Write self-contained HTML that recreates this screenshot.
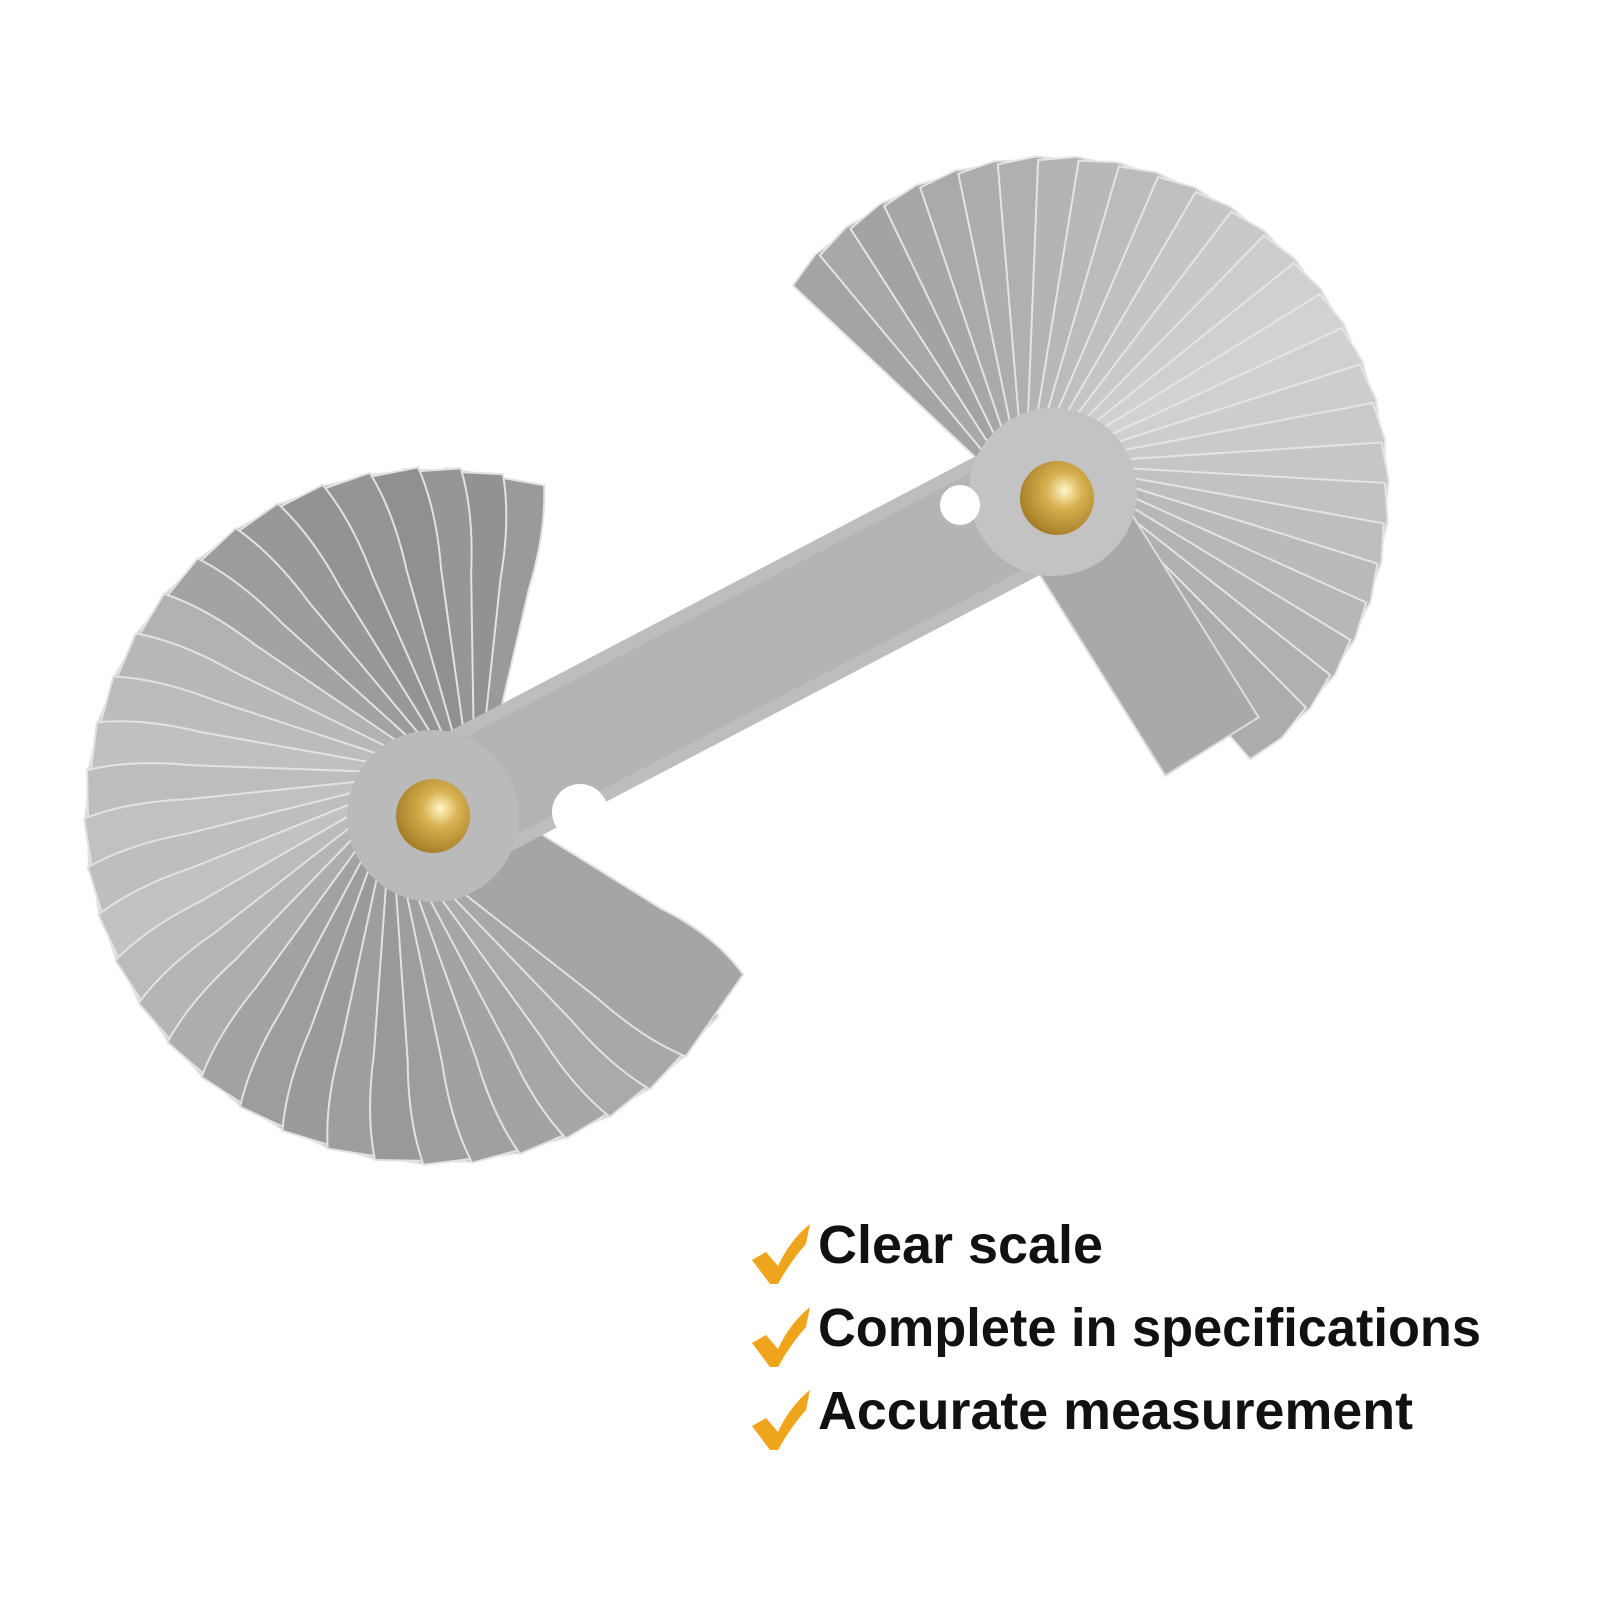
<!DOCTYPE html>
<html><head><meta charset="utf-8"><style>
html,body{margin:0;padding:0;background:#fff;width:1600px;height:1600px;overflow:hidden}
</style></head><body>
<svg width="1600" height="1600" viewBox="0 0 1600 1600" xmlns="http://www.w3.org/2000/svg">
<defs>
<path id="lb" d="M0,-42 L240,-55 Q300,-64 345,-48 L345,52 Q300,62 240,55 L0,42 Z" stroke="#e2e2e2" stroke-width="2"/>
<path id="rb" d="M0,-28 L330,-38 L336,0 L330,38 L0,28 Z" stroke="#e4e4e4" stroke-width="2"/>
<radialGradient id="brass" cx="0.6" cy="0.4" r="0.7">
<stop offset="0" stop-color="#fff6c8"/><stop offset="0.35" stop-color="#d8b150"/><stop offset="1" stop-color="#9c7420"/>
</radialGradient>
</defs>
<g transform="translate(433,816)">
<use href="#lb" fill="#9a9a9a" transform="rotate(280)"/>
<use href="#lb" fill="#929292" transform="rotate(273)"/>
<use href="#lb" fill="#969696" transform="rotate(266)"/>
<use href="#lb" fill="#909090" transform="rotate(259)"/>
<use href="#lb" fill="#959595" transform="rotate(251)"/>
<use href="#lb" fill="#939393" transform="rotate(243)"/>
<use href="#lb" fill="#989898" transform="rotate(235)"/>
<use href="#lb" fill="#9c9c9c" transform="rotate(227)"/>
<use href="#lb" fill="#a3a3a3" transform="rotate(219)"/>
<use href="#lb" fill="#b2b2b2" transform="rotate(211)"/>
<use href="#lb" fill="#b8b8b8" transform="rotate(203)"/>
<use href="#lb" fill="#bcbcbc" transform="rotate(195)"/>
<use href="#lb" fill="#c0c0c0" transform="rotate(187)"/>
<use href="#lb" fill="#bdbdbd" transform="rotate(179)"/>
<use href="#lb" fill="#c1c1c1" transform="rotate(171)"/>
<use href="#lb" fill="#bebebe" transform="rotate(163)"/>
<use href="#lb" fill="#c2c2c2" transform="rotate(155)"/>
<use href="#lb" fill="#bbbbbb" transform="rotate(147)"/>
<use href="#lb" fill="#b5b5b5" transform="rotate(139)"/>
<use href="#lb" fill="#adadad" transform="rotate(131)"/>
<use href="#lb" fill="#a2a2a2" transform="rotate(123)"/>
<use href="#lb" fill="#9d9d9d" transform="rotate(115)"/>
<use href="#lb" fill="#9a9a9a" transform="rotate(107)"/>
<use href="#lb" fill="#9e9e9e" transform="rotate(99)"/>
<use href="#lb" fill="#999999" transform="rotate(91)"/>
<use href="#lb" fill="#9d9d9d" transform="rotate(83)"/>
<use href="#lb" fill="#a0a0a0" transform="rotate(75)"/>
<use href="#lb" fill="#a3a3a3" transform="rotate(67)"/>
<use href="#lb" fill="#a6a6a6" transform="rotate(59)"/>
<use href="#lb" fill="#aaaaaa" transform="rotate(51)"/>
<use href="#lb" fill="#a8a8a8" transform="rotate(43)"/>
<use href="#lb" fill="#a5a5a5" transform="rotate(35)"/>
</g>
<g transform="translate(1053,492)">
<use href="#rb" fill="#a4a4a4" transform="rotate(225)"/>
<use href="#rb" fill="#a8a8a8" transform="rotate(232)"/>
<use href="#rb" fill="#a3a3a3" transform="rotate(239)"/>
<use href="#rb" fill="#a7a7a7" transform="rotate(246)"/>
<use href="#rb" fill="#aaaaaa" transform="rotate(253)"/>
<use href="#rb" fill="#adadad" transform="rotate(260)"/>
<use href="#rb" fill="#b0b0b0" transform="rotate(267)"/>
<use href="#rb" fill="#b4b4b4" transform="rotate(274)"/>
<use href="#rb" fill="#b8b8b8" transform="rotate(281)"/>
<use href="#rb" fill="#bcbcbc" transform="rotate(288)"/>
<use href="#rb" fill="#c0c0c0" transform="rotate(295)"/>
<use href="#rb" fill="#c5c5c5" transform="rotate(302)"/>
<use href="#rb" fill="#c9c9c9" transform="rotate(309)"/>
<use href="#rb" fill="#cdcdcd" transform="rotate(316)"/>
<use href="#rb" fill="#d0d0d0" transform="rotate(323)"/>
<use href="#rb" fill="#d2d2d2" transform="rotate(330)"/>
<use href="#rb" fill="#d0d0d0" transform="rotate(337)"/>
<use href="#rb" fill="#cdcdcd" transform="rotate(344)"/>
<use href="#rb" fill="#cacaca" transform="rotate(351)"/>
<use href="#rb" fill="#c6c6c6" transform="rotate(358)"/>
<use href="#rb" fill="#c2c2c2" transform="rotate(5)"/>
<use href="#rb" fill="#bebebe" transform="rotate(12)"/>
<use href="#rb" fill="#bababa" transform="rotate(19)"/>
<use href="#rb" fill="#b7b7b7" transform="rotate(26)"/>
<use href="#rb" fill="#b3b3b3" transform="rotate(33)"/>
<use href="#rb" fill="#b0b0b0" transform="rotate(40)"/>
<use href="#rb" fill="#acacac" transform="rotate(47)"/>
<g transform="rotate(58)"><path d="M0,-55 L300,-55 L300,55 L0,55 Z" fill="#a9a9a9" stroke="#dcdcdc" stroke-width="2"/></g>
</g>
<line x1="433" y1="816" x2="1053" y2="492" stroke="#bdbdbd" stroke-width="135" stroke-linecap="round"/>
<line x1="433" y1="816" x2="1053" y2="492" stroke="#b4b4b4" stroke-width="110" stroke-linecap="round"/>
<circle cx="433" cy="816" r="86" fill="#bababa"/>
<circle cx="1053" cy="492" r="84" fill="#c3c3c3"/>
<circle cx="580" cy="812" r="28" fill="#ffffff"/>
<circle cx="960" cy="505" r="20" fill="#ffffff"/>
<circle cx="433" cy="816" r="37" fill="url(#brass)"/>
<circle cx="1057" cy="498" r="37" fill="url(#brass)"/>
<g fill="#eea51b">
<path d="M752,1260 L766,1252 L778,1266 Q790,1240 810,1224 L806,1244 Q790,1262 778,1284 L770,1284 Z"/>
<path d="M752,1343 L766,1335 L778,1349 Q790,1323 810,1307 L806,1327 Q790,1345 778,1367 L770,1367 Z"/>
<path d="M752,1426 L766,1418 L778,1432 Q790,1406 810,1390 L806,1410 Q790,1428 778,1450 L770,1450 Z"/>
</g>
<g font-family="Liberation Sans, DejaVu Sans, sans-serif" font-weight="bold" font-size="54" fill="#111">
<text x="818" y="1263" textLength="285" lengthAdjust="spacingAndGlyphs">Clear scale</text>
<text x="818" y="1346" textLength="663" lengthAdjust="spacingAndGlyphs">Complete in specifications</text>
<text x="818" y="1429" textLength="595" lengthAdjust="spacingAndGlyphs">Accurate measurement</text>
</g>
</svg>
</body></html>
